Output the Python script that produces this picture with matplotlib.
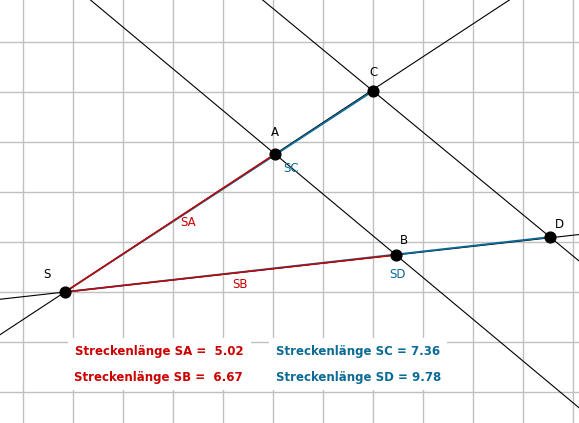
import matplotlib
matplotlib.use("Agg")
import matplotlib.pyplot as plt
import numpy as np

names = ["S", "A", "B", "C", "D"]
xs = [0.84, 5.04, 7.46, 7.00, 10.54]
ys = [2.00, 4.76, 2.74, 6.02, 3.10]
lengths = {"SA": 5.02, "SB": 6.67, "SC": 7.36, "SD": 9.78}

P = {n: np.array([x, y]) for n, x, y in zip(names, xs, ys)}
RED = "#cc0000"
BLUE = "#0b6a96"

fig = plt.figure(figsize=(5.79, 4.23), dpi=100)
ax = fig.add_axes([0, 0, 1, 1])
x0, x1 = -0.46, 11.12
y0, y1 = -0.62, 7.84
ax.set_xlim(x0, x1)
ax.set_ylim(y0, y1)
ax.axis("off")

for gx in range(0, 12):
    ax.axvline(gx, color="#c0c0c0", lw=1, zorder=0)
for gy in range(0, 8):
    ax.axhline(gy, color="#c0c0c0", lw=1, zorder=0)

def full_line(p, q):
    d = q - p
    t = np.array([-100, 100])
    ax.plot(p[0] + t * d[0], p[1] + t * d[1], color="black", lw=0.8, zorder=1)

full_line(P["S"], P["A"])
full_line(P["S"], P["B"])
full_line(P["A"], P["B"])
full_line(P["C"], P["D"])

for n in ["C", "D"]:
    ax.plot([P["S"][0], P[n][0]], [P["S"][1], P[n][1]], color=BLUE, lw=1.3, zorder=2)
for n in ["A", "B"]:
    ax.plot([P["S"][0], P[n][0]], [P["S"][1], P[n][1]], color=RED, lw=1.1, zorder=3)

ax.scatter(xs, ys, s=60, color="black", zorder=5)

lab_off = {"S": (-0.36, 0.34), "A": (0.0, 0.42), "B": (0.16, 0.28), "C": (0.0, 0.38), "D": (0.18, 0.26)}
for n in names:
    ax.text(P[n][0] + lab_off[n][0], P[n][1] + lab_off[n][1], n, fontsize=8.5,
            ha="center", va="center", family="DejaVu Sans", zorder=6)

ax.text(3.30, 3.40, "SA", color=RED, fontsize=8.5, ha="center", va="center")
ax.text(4.34, 2.14, "SB", color=RED, fontsize=8.5, ha="center", va="center")
ax.text(5.36, 4.46, "SC", color=BLUE, fontsize=8.5, ha="center", va="center")
ax.text(7.48, 2.34, "SD", color=BLUE, fontsize=8.5, ha="center", va="center")

bbox = dict(facecolor="white", edgecolor="none", pad=5)
ax.text(1.04, 0.82, f"Streckenlänge SA =  {lengths['SA']:.2f}", color=RED, fontsize=8.5,
        fontweight="bold", va="center", bbox=bbox, zorder=7)
ax.text(1.02, 0.30, f"Streckenlänge SB =  {lengths['SB']:.2f}", color=RED, fontsize=8.5,
        fontweight="bold", va="center", bbox=bbox, zorder=7)
ax.text(5.06, 0.82, f"Streckenlänge SC = {lengths['SC']:.2f}", color=BLUE, fontsize=8.5,
        fontweight="bold", va="center", bbox=bbox, zorder=7)
ax.text(5.06, 0.30, f"Streckenlänge SD = {lengths['SD']:.2f}", color=BLUE, fontsize=8.5,
        fontweight="bold", va="center", bbox=bbox, zorder=7)

fig.savefig("out.png", dpi=100)
